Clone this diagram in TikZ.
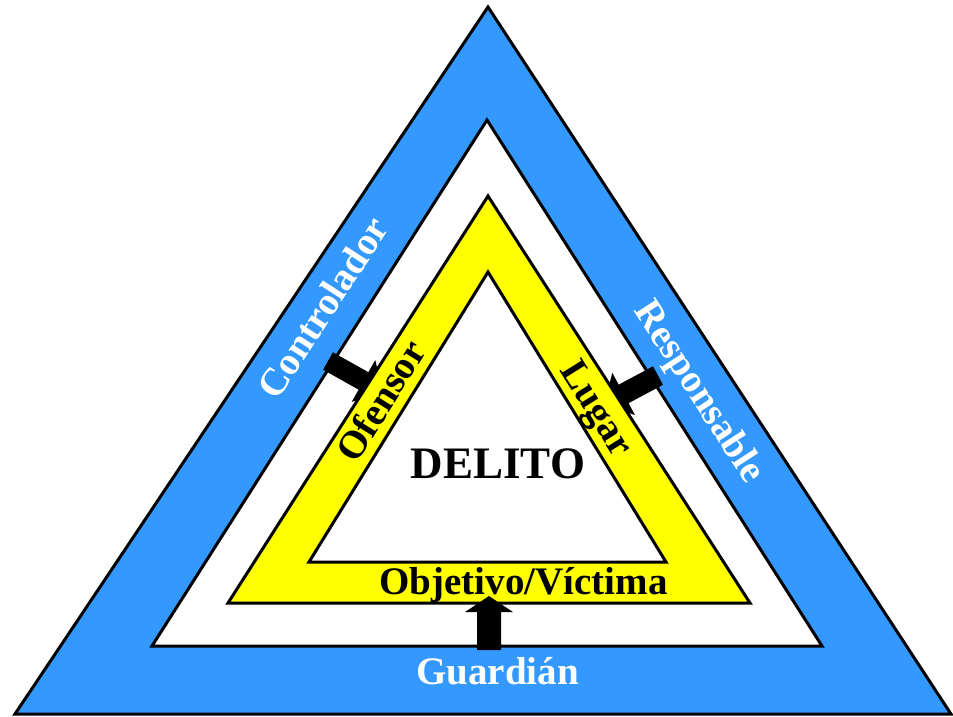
\documentclass[tikz,border=0pt]{standalone}
\usepackage{fontspec}
\setmainfont{Liberation Serif}
\definecolor{bandblue}{RGB}{51,153,255}
\definecolor{bandyellow}{RGB}{255,255,0}
\newcommand\blkarrow[7]{%
  \begin{scope}[shift={(#1,#2)},rotate=#3]
    \fill[black] (0,-#5) -- (#4,-#5) -- (#4,-#6) -- (#4+#7,0) -- (#4,#6) -- (#4,#5) -- (0,#5) -- cycle;
  \end{scope}}
\begin{document}
\begin{tikzpicture}[x=1pt,y=-1pt,
  edge/.style={draw=black,line width=3pt,line join=miter},
  lbl/.style={font=\fontsize{39}{40}\selectfont\bfseries,inner sep=0pt,text height=25.7pt,text depth=0pt},
  big/.style={font=\fontsize{45}{46}\selectfont\bfseries,inner sep=0pt,text height=29.7pt,text depth=0pt}]
\useasboundingbox[fill=white] (0,0) rectangle (953,717);
% bands
\draw[edge,fill=bandblue] (488,7) -- (951,714) -- (15,714) -- cycle;
\draw[edge,fill=white] (487,120) -- (822,646) -- (152,646) -- cycle;
% arrows under the yellow band
\blkarrow{328}{361}{-29.3}{40.7}{10}{24}{22}
\blkarrow{658}{375.5}{-151.8}{39}{10.5}{24}{22}
\draw[edge,fill=bandyellow] (488,196) -- (750,603) -- (228,603) -- cycle;
\draw[edge,fill=white] (488,272) -- (666,562) -- (309,562) -- cycle;
% guardian arrow
\blkarrow{489}{650}{90}{38}{12}{24}{16}
% labels
\node[lbl,text=white,rotate=57] (controlador) at (323,308) {Controlador};
\node[lbl,text=white,rotate=-57] (responsable) at (701,391) {Responsable};
\node[lbl,text=white] (guardian) at (497.5,672) {Guardián};
\node[lbl,rotate=58] (ofensor) at (381,401) {Ofensor};
\node[lbl,rotate=-58] (lugar) at (598,408) {Lugar};
\node[lbl] (objetivo) at (523.5,581.5) {Objetivo/Víctima};
\node[big] (delito) at (498,464) {DELITO};
\end{tikzpicture}
\end{document}
